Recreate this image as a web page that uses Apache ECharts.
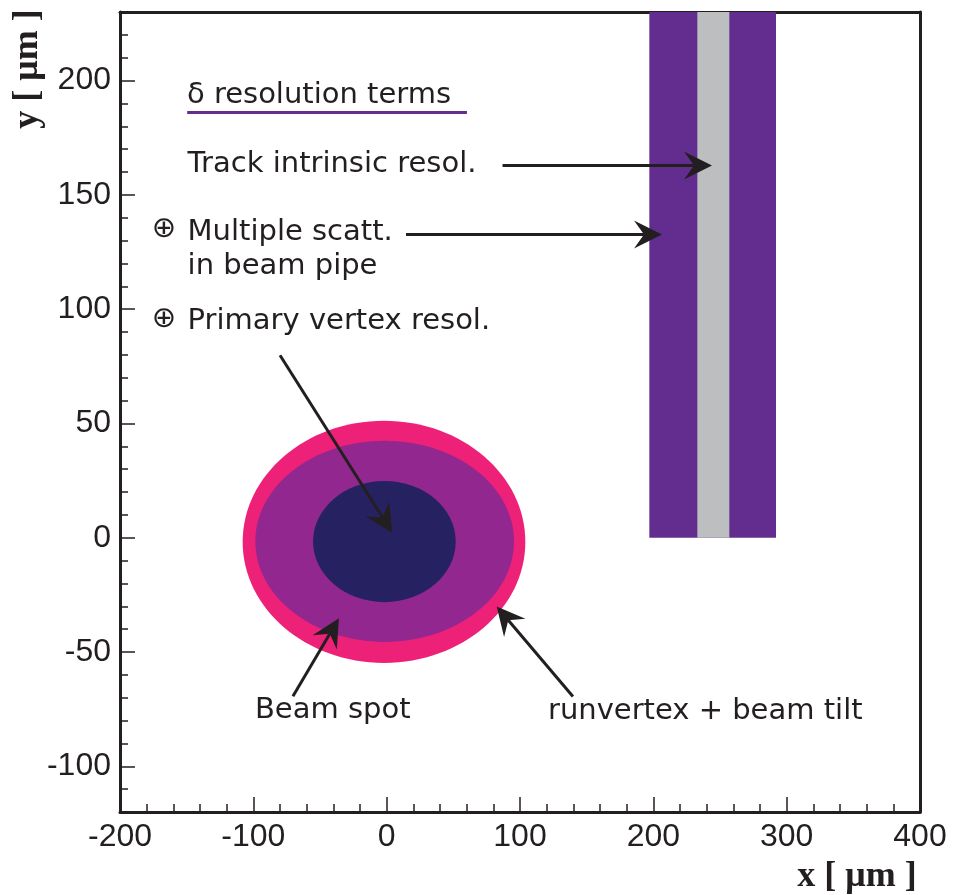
<!DOCTYPE html>
<html>
<head>
<meta charset="utf-8">
<script src="https://cdn.jsdelivr.net/npm/echarts@6/dist/echarts.min.js"></script>
<style>
html,body{margin:0;padding:0;background:#fff;}
#chart{width:957px;height:895px;}
</style>
</head>
<body>
<div id="chart"></div>
<script>
// ---- Data (in µm) ----
const xTicks = [-200, -100, 0, 100, 200, 300, 400];
const yTicks = [-100, -50, 0, 50, 100, 150, 200];

// vertical bands (track resolution terms)
const bandLeft   = [197, 233];
const bandRight  = [292, 257];
const bandBottom = [0, 0];
const bandTop    = [230, 230];
const bandColor  = ['#632c8f', '#bcbec0'];

// ellipses (beam spot terms): centre x, centre y, semi-axis x, semi-axis y
const ellCx = [-2, -1.5, -1.7];
const ellCy = [-1.8, -1.6, -1.7];
const ellRx = [106, 97, 53.5];
const ellRy = [53, 44, 26.5];
const ellColor = ['#ee2178', '#92278f', '#262262'];

// arrows: start (x,y) -> tip (x,y)
const arrowX0 = [86.9, 14.5, -80, -70.3, 139.7];
const arrowY0 = [162.8, 132.7, 79.8, -69.4, -69.5];
const arrowX1 = [244, 206.5, 4.2, -35.8, 82.5];
const arrowY1 = [162.8, 132.7, 2.2, -35.2, -30.1];

// annotation texts
const noteText = ['δ resolution terms', 'Track intrinsic resol.', 'Multiple scatt.', 'in beam pipe', 'Primary vertex resol.', 'Beam spot', 'runvertex + beam tilt'];
const noteX = [-149.8, -149.3, -149.3, -149.3, -149.3, -98.8, 121];
const noteY = [193.4, 163.5, 133.6, 118.7, 94.4, -75.6, -76.1];

// ⊕ markers
const oplusX = [-167.1, -167.1];
const oplusY = [135.0, 95.6];

// underline of the heading
const underlineX = [-149.6, 60.2];
const underlineY = [186.0, 186.0];

// ---- Chart ----
const INK = '#231f20';
const chart = echarts.init(document.getElementById('chart'), null, {renderer: 'canvas'});

const bandData = bandLeft.map((v, i) => [v, bandRight[i], bandBottom[i], bandTop[i]]);
const ellData = ellCx.map((v, i) => [v, ellCy[i], ellRx[i], ellRy[i]]);
const arrowData = arrowX0.map((v, i) => [v, arrowY0[i], arrowX1[i], arrowY1[i]]);
const noteData = noteX.map((v, i) => [v, noteY[i]]);
const oplusData = oplusX.map((v, i) => [v, oplusY[i]]);

const textFont = '29px "DejaVu Sans"';

const option = {
  animation: false,
  backgroundColor: '#ffffff',
  grid: {left: 120, right: 37, top: 12, bottom: 83, containLabel: false},
  xAxis: [
    {
      type: 'value', min: -200, max: 400, interval: 100, position: 'bottom',
      axisLine: {show: true, onZero: false, lineStyle: {color: INK, width: 3}},
      axisTick: {show: true, inside: true, length: 15, lineStyle: {color: INK, width: 1.5}},
      minorTick: {show: true, splitNumber: 5, length: 8, lineStyle: {color: INK, width: 1.5}},
      splitLine: {show: false}, minorSplitLine: {show: false},
      axisLabel: {show: true, margin: 9, fontSize: 32, fontFamily: 'Liberation Sans', color: INK}
    },
    {
      type: 'value', min: -200, max: 400, position: 'top',
      axisLine: {show: true, onZero: false, lineStyle: {color: INK, width: 3}},
      axisTick: {show: false}, axisLabel: {show: false}, splitLine: {show: false}
    }
  ],
  yAxis: [
    {
      type: 'value', min: -120, max: 230, splitNumber: 7, position: 'left',
      axisLine: {show: true, onZero: false, lineStyle: {color: INK, width: 3}},
      axisTick: {show: true, inside: true, length: 15, lineStyle: {color: INK, width: 1.5}},
      splitLine: {show: false},
      axisLabel: {show: true, margin: 9, fontSize: 32, fontFamily: 'Liberation Sans', color: INK,
        showMinLabel: false, showMaxLabel: false,
        formatter: function (v) { return yTicks.indexOf(v) >= 0 ? String(v) : ''; }}
    },
    {
      type: 'value', min: -120, max: 230, interval: 10, position: 'left',
      axisLine: {show: false, onZero: false},
      axisTick: {show: true, inside: true, length: 8, lineStyle: {color: INK, width: 1.5}},
      axisLabel: {show: false}, splitLine: {show: false}
    },
    {
      type: 'value', min: -120, max: 230, position: 'right',
      axisLine: {show: true, onZero: false, lineStyle: {color: INK, width: 3}},
      axisTick: {show: false}, axisLabel: {show: false}, splitLine: {show: false}
    }
  ],
  graphic: [
    {type: 'text', x: 28, y: 69, rotation: Math.PI / 2, z: 100,
      style: {text: 'y [ μm ]', font: 'bold 36px "Liberation Serif"', fill: INK, align: 'center', verticalAlign: 'middle'}},
    {type: 'text', x: 857, y: 877, z: 100,
      style: {text: 'x [ μm ]', font: 'bold 36px "Liberation Serif"', fill: INK, align: 'center', verticalAlign: 'middle'}}
  ],
  series: [
    {
      type: 'custom', name: 'bands', xAxisIndex: 0, yAxisIndex: 0, z: 2,
      data: bandData,
      encode: {x: [0, 1], y: [2, 3]},
      renderItem: function (params, api) {
        const p0 = api.coord([api.value(0), api.value(2)]);
        const p1 = api.coord([api.value(1), api.value(3)]);
        return {type: 'rect', shape: {x: p0[0], y: p1[1], width: p1[0] - p0[0], height: p0[1] - p1[1]},
          style: {fill: bandColor[params.dataIndex]}};
      }
    },
    {
      type: 'custom', name: 'ellipses', xAxisIndex: 0, yAxisIndex: 0, z: 3,
      data: ellData,
      encode: {x: 0, y: 1},
      renderItem: function (params, api) {
        const c = api.coord([api.value(0), api.value(1)]);
        const s = api.size([api.value(2), api.value(3)]);
        return {type: 'ellipse', shape: {cx: c[0], cy: c[1], rx: s[0], ry: s[1]},
          style: {fill: ellColor[params.dataIndex]}};
      }
    },
    {
      type: 'custom', name: 'arrows', xAxisIndex: 0, yAxisIndex: 0, z: 5,
      data: arrowData,
      encode: {x: [0, 2], y: [1, 3]},
      renderItem: function (params, api) {
        const p0 = api.coord([api.value(0), api.value(1)]);
        const p1 = api.coord([api.value(2), api.value(3)]);
        const dx = p1[0] - p0[0], dy = p1[1] - p0[1];
        const len = Math.sqrt(dx * dx + dy * dy);
        const ux = dx / len, uy = dy / len;
        const nx = -uy, ny = ux;
        const L = 28, W = 14, N = 18;
        const notch = [p1[0] - ux * N, p1[1] - uy * N];
        const b1 = [p1[0] - ux * L + nx * W, p1[1] - uy * L + ny * W];
        const b2 = [p1[0] - ux * L - nx * W, p1[1] - uy * L - ny * W];
        return {type: 'group', children: [
          {type: 'line', shape: {x1: p0[0], y1: p0[1], x2: notch[0], y2: notch[1]},
            style: {stroke: INK, lineWidth: 3}},
          {type: 'polygon', shape: {points: [p1, b1, notch, b2]}, style: {fill: INK}}
        ]};
      }
    },
    {
      type: 'custom', name: 'underline', xAxisIndex: 0, yAxisIndex: 0, z: 5,
      data: [[underlineX[0], underlineY[0], underlineX[1], underlineY[1]]],
      encode: {x: [0, 2], y: [1, 3]},
      renderItem: function (params, api) {
        const p0 = api.coord([api.value(0), api.value(1)]);
        const p1 = api.coord([api.value(2), api.value(3)]);
        return {type: 'line', shape: {x1: p0[0], y1: p0[1], x2: p1[0], y2: p1[1]},
          style: {stroke: '#662d91', lineWidth: 3}};
      }
    },
    {
      type: 'custom', name: 'notes', xAxisIndex: 0, yAxisIndex: 0, z: 6,
      data: noteData,
      encode: {x: 0, y: 1},
      renderItem: function (params, api) {
        const p = api.coord([api.value(0), api.value(1)]);
        return {type: 'text', x: p[0], y: p[1],
          style: {text: noteText[params.dataIndex], font: textFont, fill: INK, align: 'left', verticalAlign: 'middle'}};
      }
    },
    {
      type: 'custom', name: 'oplus', xAxisIndex: 0, yAxisIndex: 0, z: 6,
      data: oplusData,
      encode: {x: 0, y: 1},
      renderItem: function (params, api) {
        const p = api.coord([api.value(0), api.value(1)]);
        return {type: 'text', x: p[0], y: p[1],
          style: {text: '⊕', font: '29px "DejaVu Sans"', fill: INK, align: 'center', verticalAlign: 'middle'}};
      }
    }
  ]
};
chart.setOption(option);
</script>
</body>
</html>
